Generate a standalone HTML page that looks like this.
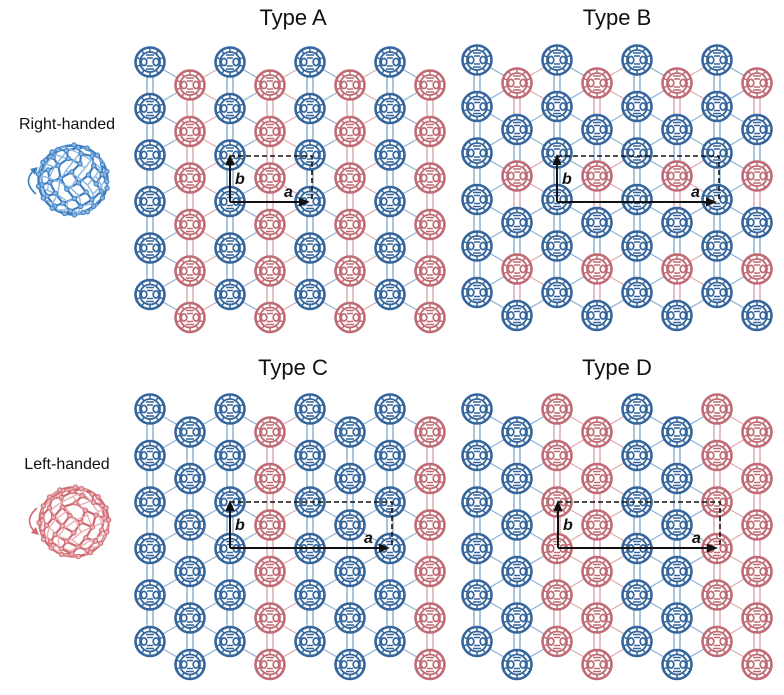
<!DOCTYPE html>
<html><head><meta charset="utf-8">
<style>
html,body{margin:0;padding:0;background:#fff;}
body{width:784px;height:695px;position:relative;overflow:hidden;font-family:"Liberation Sans",Arial,sans-serif;}
.t{position:absolute;font-size:22px;color:#111;transform:translateX(-50%);white-space:nowrap;}
.h{position:absolute;font-size:16px;color:#111;transform:translateX(-50%);white-space:nowrap;}
svg{position:absolute;left:0;top:0;}
</style></head><body>
<svg id="s" width="784" height="695" viewBox="0 0 784 695"></svg>
<div class="t" style="left:293px;top:5px">Type A</div>
<div class="t" style="left:617px;top:5px">Type B</div>
<div class="t" style="left:293px;top:355px">Type C</div>
<div class="t" style="left:617px;top:355px">Type D</div>
<div class="h" style="left:67px;top:116px">Right-handed</div>
<div class="h" style="left:67px;top:456px">Left-handed</div>
<script>
var S=document.getElementById('s');
var out=[];
var B="#34659c",R="#bf6a74",BL="#8fb0d2",RL="#dcaab0";
function ball(x,y,c){
  var s='';
  s+='<circle cx="'+x+'" cy="'+y+'" r="14.5" fill="none" stroke="'+c+'" stroke-width="2.6"/>';
  s+='<circle cx="'+x+'" cy="'+y+'" r="10" fill="none" stroke="'+c+'" stroke-width="1.8"/>';
  s+='<ellipse cx="'+(x-6)+'" cy="'+y+'" rx="2.8" ry="3.6" fill="none" stroke="'+c+'" stroke-width="1.7"/>';
  s+='<ellipse cx="'+(x+6)+'" cy="'+y+'" rx="2.8" ry="3.6" fill="none" stroke="'+c+'" stroke-width="1.7"/>';
  var d='';
  for(var k=0;k<10;k++){var a=k*0.6283+0.31;d+='M'+(x+10*Math.cos(a)).toFixed(1)+' '+(y+10*Math.sin(a)).toFixed(1)+'L'+(x+14*Math.cos(a)).toFixed(1)+' '+(y+14*Math.sin(a)).toFixed(1);}
  d+='M'+(x-4)+' '+(y-7)+'L'+(x+4)+' '+(y-7)+'M'+(x-4)+' '+(y+7)+'L'+(x+4)+' '+(y+7)+'M'+(x-3)+' '+(y-4)+'L'+(x+3)+' '+(y-4)+'M'+(x-3)+' '+(y+4)+'L'+(x+3)+' '+(y+4);
  s+='<path d="'+d+'" stroke="'+c+'" stroke-width="1.5" fill="none"/>';
  return s;
}
function panel(x0,y0,colorFn,ox,oy,alen){
  var dx=40,dy=46.5,links='',balls='';
  var pos=function(i,j){return [x0+i*dx,y0+j*dy+(i%2?23:0)];};
  for(var i=0;i<8;i++)for(var j=0;j<6;j++){
    var p=pos(i,j),c=colorFn(i,j),lc=(c==B?BL:RL);
    if(j<5){var q=pos(i,j+1);
      links+='<path d="M'+(p[0]-3)+' '+(p[1]+13)+'V'+(q[1]-13)+'M'+(p[0]+3)+' '+(p[1]+13)+'V'+(q[1]-13)+'" stroke="'+lc+'" stroke-width="1.5"/>';}
    if(i<7){
      var a=pos(i+1,j),b=(i%2?pos(i+1,j+1):pos(i+1,j-1));
      [a,b].forEach(function(q){
        if(q[1]<y0-5||q[1]>y0+5*dy+30)return;
        var ang=Math.atan2(q[1]-p[1],q[0]-p[0]);
        links+='<line x1="'+(p[0]+14*Math.cos(ang))+'" y1="'+(p[1]+14*Math.sin(ang))+'" x2="'+(q[0]-14*Math.cos(ang))+'" y2="'+(q[1]-14*Math.sin(ang))+'" stroke="'+lc+'" stroke-width="1.2"/>';
      });
    }
    balls+=ball(p[0],p[1],c);
  }
  out.push(links,balls);
  var ax=ox+alen;
  out.push('<path d="M'+ox+' '+(oy-46)+'H'+(ax+2)+'V'+oy+'" fill="none" stroke="#111" stroke-width="1.6" stroke-dasharray="5,3"/>');
  out.push('<line x1="'+ox+'" y1="'+oy+'" x2="'+(ax-8)+'" y2="'+oy+'" stroke="#111" stroke-width="2"/>');
  out.push('<polygon points="'+ax+','+oy+' '+(ax-11)+','+(oy-4.5)+' '+(ax-11)+','+(oy+4.5)+'" fill="#111"/>');
  out.push('<line x1="'+ox+'" y1="'+oy+'" x2="'+ox+'" y2="'+(oy-40)+'" stroke="#111" stroke-width="2"/>');
  out.push('<polygon points="'+ox+','+(oy-48)+' '+(ox-4.5)+','+(oy-37)+' '+(ox+4.5)+','+(oy-37)+'" fill="#111"/>');
  out.push('<text x="'+(ox+5)+'" y="'+(oy-18)+'" font-family="Liberation Sans" font-weight="bold" font-style="italic" font-size="16" fill="#111">b</text>');
  out.push('<text x="'+(ax-26)+'" y="'+(oy-5)+'" font-family="Liberation Sans" font-weight="bold" font-style="italic" font-size="16" fill="#111">a</text>');
}
panel(150,62,function(i,j){return i%2?R:B;},230,202,80);
panel(477,60,function(i,j){return (i%2&&j%2==0)?R:B;},557,202,160);
panel(150,409,function(i,j){return (i%4==3)?R:B;},230,548,160);
panel(477,409,function(i,j){return (i%4>=2)?R:B;},558,548,160);
function big(cx,cy,c,lc,right){
  var N=90,pts=[],ga=Math.PI*(3-Math.sqrt(5));
  for(var k=0;k<N;k++){var z=1-2*(k+0.5)/N,r=Math.sqrt(1-z*z),t=k*ga+(right?0:1.3);
    pts.push([Math.cos(t)*r,Math.sin(t)*r,z]);}
  var rot=1.2;
  pts=pts.map(function(p){return [p[0],p[1]*Math.cos(rot)-p[2]*Math.sin(rot),p[1]*Math.sin(rot)+p[2]*Math.cos(rot)];});
  var R0=35,s='',dots='';
  var proj=function(p){return [cx+(right?1:-1)*p[0]*R0,cy+p[1]*R0];};
  var seen={};
  s+='<circle cx="'+cx+'" cy="'+cy+'" r="'+(R0-0.5)+'" fill="none" stroke="'+c+'" stroke-width="2.4"/>';
  for(var i=0;i<N;i++){
    var d=[];for(var j=0;j<N;j++)if(j!=i){var dd=Math.hypot(pts[i][0]-pts[j][0],pts[i][1]-pts[j][1],pts[i][2]-pts[j][2]);d.push([dd,j]);}
    d.sort(function(a,b){return a[0]-b[0];});
    for(var k=0;k<3;k++){var j=d[k][1],key=Math.min(i,j)+'_'+Math.max(i,j);if(seen[key])continue;seen[key]=1;
      var back=pts[i][2]<0&&pts[j][2]<0;
      var a=proj(pts[i]),b=proj(pts[j]);
      s+='<line x1="'+a[0].toFixed(1)+'" y1="'+a[1].toFixed(1)+'" x2="'+b[0].toFixed(1)+'" y2="'+b[1].toFixed(1)+'" stroke="'+(back?lc:c)+'" stroke-width="'+(back?1.4:2.2)+'"/>';}
    var p=proj(pts[i]);if(pts[i][2]>=-0.1)dots+='<circle cx="'+p[0].toFixed(1)+'" cy="'+p[1].toFixed(1)+'" r="2.2" fill="'+lc+'" stroke="'+c+'" stroke-width="1"/>';
  }
  out.push(s+dots);
  var ax=cx-45;
  if(right){out.push('<path d="M'+(ax+8)+' '+(cy+14)+'Q'+(ax-6)+' '+(cy+2)+' '+(ax+6)+' '+(cy-10)+'" fill="none" stroke="'+c+'" stroke-width="1.6"/><polygon points="'+(ax+10)+','+(cy-13)+' '+(ax+2)+','+(cy-11)+' '+(ax+7)+','+(cy-5)+'" fill="'+c+'"/>');}
  else{out.push('<path d="M'+(ax+8)+' '+(cy-14)+'Q'+(ax-6)+' '+(cy-2)+' '+(ax+6)+' '+(cy+10)+'" fill="none" stroke="'+c+'" stroke-width="1.6"/><polygon points="'+(ax+10)+','+(cy+13)+' '+(ax+2)+','+(cy+11)+' '+(ax+7)+','+(cy+5)+'" fill="'+c+'"/>');}
}
big(73,180,"#3f7fc0","#8ab6e2",true);
big(74,522,"#d06a72","#eab0b5",false);
S.innerHTML=out.join('');
</script>
</body></html>
